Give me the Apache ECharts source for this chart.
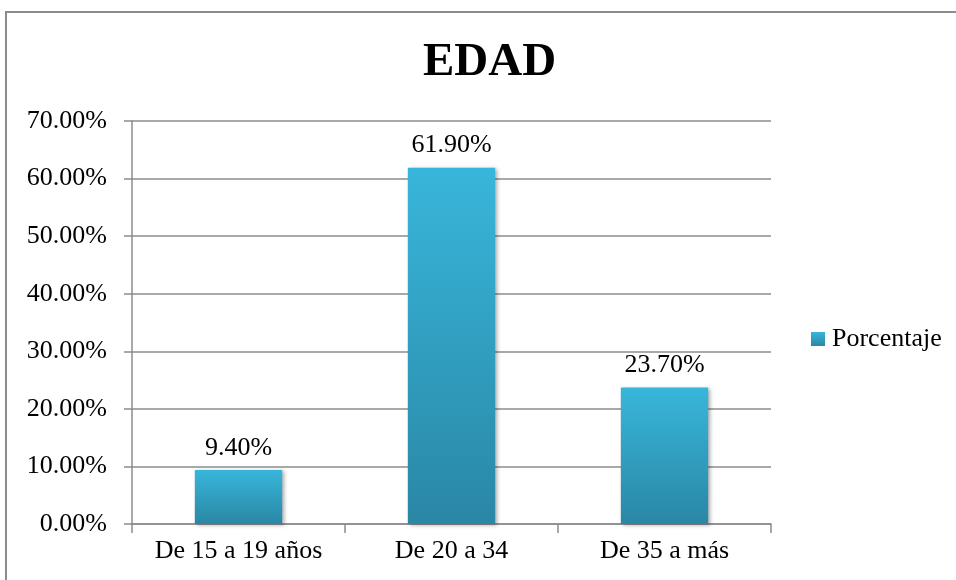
<!DOCTYPE html>
<html>
<head>
<meta charset="utf-8">
<script src="https://cdn.jsdelivr.net/npm/echarts@6/dist/echarts.min.js"></script>
<style>
  html, body { margin: 0; padding: 0; background: #fff; }
  #frame { position: absolute; left: 5px; top: 11px; width: 960px; height: 580px; border: 2px solid #8c8c8c; box-sizing: border-box; }
  #chart { position: absolute; left: 0; top: 0; width: 956px; height: 580px; }
</style>
</head>
<body>
<div id="frame"></div>
<div id="chart"></div>
<script>
const categories = ['De 15 a 19 años', 'De 20 a 34', 'De 35 a más']
const porcentaje = [9.4, 61.9, 23.7]
const yTicks = [0, 10, 20, 30, 40, 50, 60, 70]

const serif = '"Liberation Serif", "DejaVu Serif", serif'
const chart = echarts.init(document.getElementById('chart'))

const option = {
  backgroundColor: 'transparent',
  title: {
    text: 'EDAD',
    left: 418,
    top: 34,
    textStyle: { fontFamily: serif, fontSize: 47, fontWeight: 'bold', color: '#000' }
  },
  legend: {
    data: [{ name: 'Porcentaje', icon: 'rect' }],
    left: 811,
    top: 326,
    padding: 0,
    itemWidth: 14,
    itemHeight: 14,
    itemGap: 4,
    textStyle: { fontFamily: serif, fontSize: 26, color: '#000', padding: [0, 0, 0, 2] }
  },
  grid: { left: 132, right: 185, top: 121, bottom: 56, containLabel: false },
  xAxis: {
    type: 'category',
    data: categories,
    axisLine: { lineStyle: { color: '#8c8c8c', width: 1.5 } },
    axisTick: { show: true, length: 9, lineStyle: { color: '#8c8c8c', width: 1.5 } },
    axisLabel: { interval: 0, fontFamily: serif, fontSize: 26, color: '#000', margin: 14 }
  },
  yAxis: {
    type: 'value',
    min: yTicks[0],
    max: yTicks[yTicks.length - 1],
    interval: 10,
    axisLine: { show: true, lineStyle: { color: '#8c8c8c', width: 1.5 } },
    axisTick: { show: true, length: 8, lineStyle: { color: '#8c8c8c', width: 1.5 } },
    splitLine: { lineStyle: { color: '#8c8c8c', width: 1.5 } },
    axisLabel: {
      fontFamily: serif, fontSize: 26, color: '#000', margin: 25,
      formatter: v => v.toFixed(2) + '%'
    }
  },
  series: [{
    name: 'Porcentaje',
    type: 'bar',
    data: porcentaje,
    barWidth: '41%',
    itemStyle: {
      color: new echarts.graphic.LinearGradient(0, 0, 0, 1, [
        { offset: 0, color: '#38b6db' },
        { offset: 1, color: '#2a87a5' }
      ]),
      shadowColor: 'rgba(0,0,0,0.35)',
      shadowBlur: 4,
      shadowOffsetX: 2,
      shadowOffsetY: 1
    },
    label: {
      show: true,
      position: 'top',
      distance: 9,
      fontFamily: serif,
      fontSize: 26,
      color: '#000',
      formatter: p => p.value.toFixed(2) + '%'
    }
  }]
}

chart.setOption(option)
</script>
</body>
</html>
